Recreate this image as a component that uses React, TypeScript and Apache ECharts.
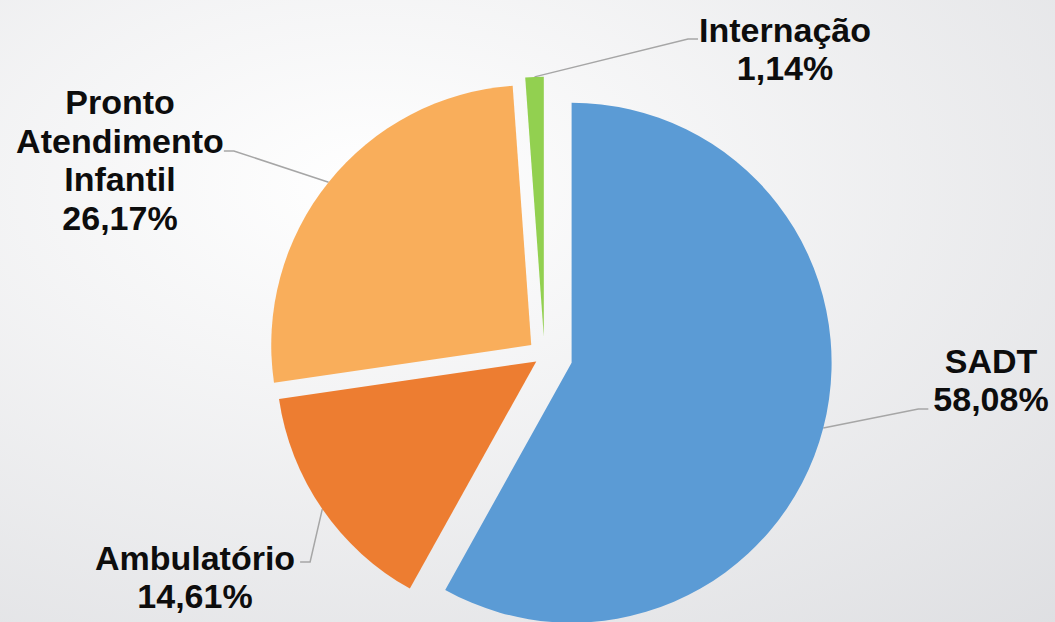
import React, { useEffect, useRef } from "react";
import * as echarts from "echarts";

// ---- data ----
const categories = ["SADT", "Ambulatório", "Pronto\nAtendimento\nInfantil", "Internação"];
const shares = [58.08, 14.61, 26.17, 1.14];

// ---- styling / layout ----
const sliceColors = ["#5B9BD5", "#ED7D31", "#F9AE5B", "#92D050"];
const explodeOffsets = [28, 10, 17, 19]; // px each slice is pulled out along its bisector
const pieCentre = [544.5, 355.7];
const pieRadius = 260;
// centre of each label block, side of the leader, leader end offsets
const labelCentres = [
  { x: 991, y: 380, side: "right", dy: 29, gap: 5 },
  { x: 195, y: 577, side: "left", dy: -15, gap: 5 },
  { x: 120, y: 160, side: "left", dy: -9, gap: 0 },
  { x: 785, y: 49, side: "right", dy: -10, gap: 1 },
];

const fmt = (v: number) => v.toFixed(2).replace(".", ",") + "%";

export default function App() {
  const ref = useRef<HTMLDivElement>(null);
  useEffect(() => {
    if (!ref.current) return;
    const chart = echarts.init(ref.current, undefined, { renderer: "svg" });
    const total = shares.reduce((a, b) => a + b, 0);
    let cum = 0;
    const series = shares.map((v, k) => {
      const mid = ((cum + v / 2) / total) * 2 * Math.PI; // clockwise from 12 o'clock
      cum += v;
      const dx = Math.sin(mid) * explodeOffsets[k];
      const dy = -Math.cos(mid) * explodeOffsets[k];
      return {
        type: "pie",
        center: [pieCentre[0] + dx, pieCentre[1] + dy],
        radius: [0, pieRadius],
        startAngle: 90,
        clockwise: true,
        avoidLabelOverlap: false,
        silent: true,
        emphasis: { disabled: true },
        itemStyle: { borderWidth: 0 },
        label: {
          show: true,
          position: "outside",
          formatter: (p: any) => p.name + "\n" + fmt(p.value),
          fontFamily: "'Liberation Sans', Arial, sans-serif",
          fontWeight: "bold",
          fontSize: 34,
          lineHeight: 38.5,
          color: "#0d0d0d",
          align: "center",
        },
        labelLine: {
          show: true,
          lineStyle: { color: "#a6a6a6", width: 1.5 },
        },
        labelLayout: (params: any) => {
          const c = labelCentres[params.dataIndex];
          const w = params.labelRect.width;
          const p0 = params.labelLinePoints ? params.labelLinePoints[0] : [c.x, c.y];
          const endX = c.side === "right" ? c.x - w / 2 - c.gap : c.x + w / 2 + c.gap;
          const bendX = c.side === "right" ? endX - 10 : endX + 10;
          const ly = c.y + c.dy;
          return {
            x: c.x,
            y: c.y,
            align: "center",
            verticalAlign: "middle",
            labelLinePoints: [
              [p0[0], p0[1]],
              [bendX, ly],
              [endX, ly],
            ],
          };
        },
        data: categories.map((name, i) => ({
          name,
          value: shares[i],
          itemStyle: { color: i === k ? sliceColors[i] : "rgba(0,0,0,0)" },
          label: { show: i === k },
          labelLine: { show: i === k },
        })),
      };
    });
    chart.setOption({
      animation: false,
      backgroundColor: {
        type: "radial",
        x: 0.35,
        y: 0.3,
        r: 1.3,
        colorStops: [
          { offset: 0, color: "#ffffff" },
          { offset: 1, color: "#d3d4d8" },
        ],
      },
      series,
    });
    return () => chart.dispose();
  }, []);
  return (
    <div
      ref={ref}
      style={{ position: "absolute", left: 0, top: 0, width: 1055, height: 622 }}
    />
  );
}
